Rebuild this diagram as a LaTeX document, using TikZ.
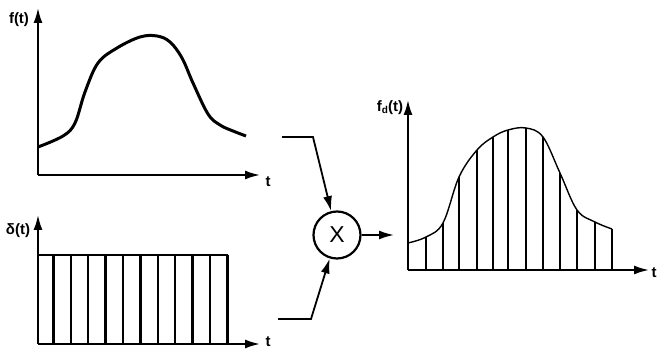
\documentclass[tikz,border=0pt]{standalone}
\usepackage{fontspec}
\setmainfont{Liberation Sans}
\usetikzlibrary{arrows.meta}
\tikzset{
  axis/.style={line width=1.8pt,-{Latex[length=15pt,width=9pt]}},
  conn/.style={line width=1.8pt,-{Latex[length=15pt,width=9pt]}},
  lbl/.style={font=\bfseries\fontsize{15}{15}\selectfont,inner sep=0pt},
  bar/.style={line width=2.3pt},
}
\begin{document}
\begin{tikzpicture}[x=1pt,y=-1pt]
\useasboundingbox (0,0) rectangle (657,352);
% ---- top graph f(t)
\coordinate (o1) at (38,175);
\draw[axis] (o1) -- (38,8) coordinate (y1);
\draw[axis] (o1) -- (260,175) coordinate (x1);
\node[lbl] (l1) at (19,20) {f(t)};
\node[lbl] (t1) at (268,182) {t};
\draw[line width=3pt,line join=round] plot[smooth,tension=0.6] coordinates {
 (38,147) (63,136) (75,123) (85,92) (98,63) (117,48) (140,37) (157,36)
 (170,42) (182,58) (193,83) (208,114) (220,125) (233,131) (246,136)};
% ---- bottom graph delta(t)
\coordinate (o2) at (38,344);
\draw[axis] (o2) -- (38,215) coordinate (y2);
\draw[axis] (o2) -- (260,344) coordinate (x2);
\node[lbl] (l2) at (18,231) {δ(t)};
\node[lbl] (t2) at (268,342) {t};
\draw[line width=1.8pt] (38,255) -- (228,255);
\foreach \x in {53.4,70.8,88.2,105.6,123,140.4,157.8,175.2,192.6,210,227.4}
  \draw[bar] (\x,255) -- (\x,344);
% ---- multiplier
\node[draw,circle,line width=2.2pt,minimum size=47pt,inner sep=0pt,
  font=\fontsize{23}{23}\selectfont] (mult) at (337,235) {X};
\coordinate (a1) at (282,137);
\coordinate (b1) at (313,137);
\coordinate (a2) at (278,319);
\coordinate (b2) at (311,319);
\draw[conn] (a1) -- (b1) -- (mult);
\draw[conn] (a2) -- (b2) -- (mult);
\coordinate (out) at (394,235);
\draw[conn] (mult) -- (out);
% ---- right graph fd(t)
\coordinate (o3) at (408,270);
\draw[axis] (o3) -- (408,100) coordinate (y3);
\draw[axis] (o3) -- (649,270) coordinate (x3);
\node[lbl] (l3) at (390,108) {f\raisebox{-2pt}{\fontsize{10}{10}\selectfont d}(t)};
\node[lbl] (t3) at (654,273) {t};
\draw[line width=1.4pt] plot[smooth,tension=0.6] coordinates {
 (408,243) (426,237) (443,223) (459,177) (477,150) (493,137) (508,130)
 (526,128) (543,137) (560,173) (577,210) (595,222) (612,229)};
\foreach \x/\y in {426/237,443/223,459/177,477/150,493/137,508/130,526/128,543/137,560/173,577/210,595/222,612/229}
  \draw[bar] (\x,270) -- (\x,\y);
\end{tikzpicture}
\end{document}
